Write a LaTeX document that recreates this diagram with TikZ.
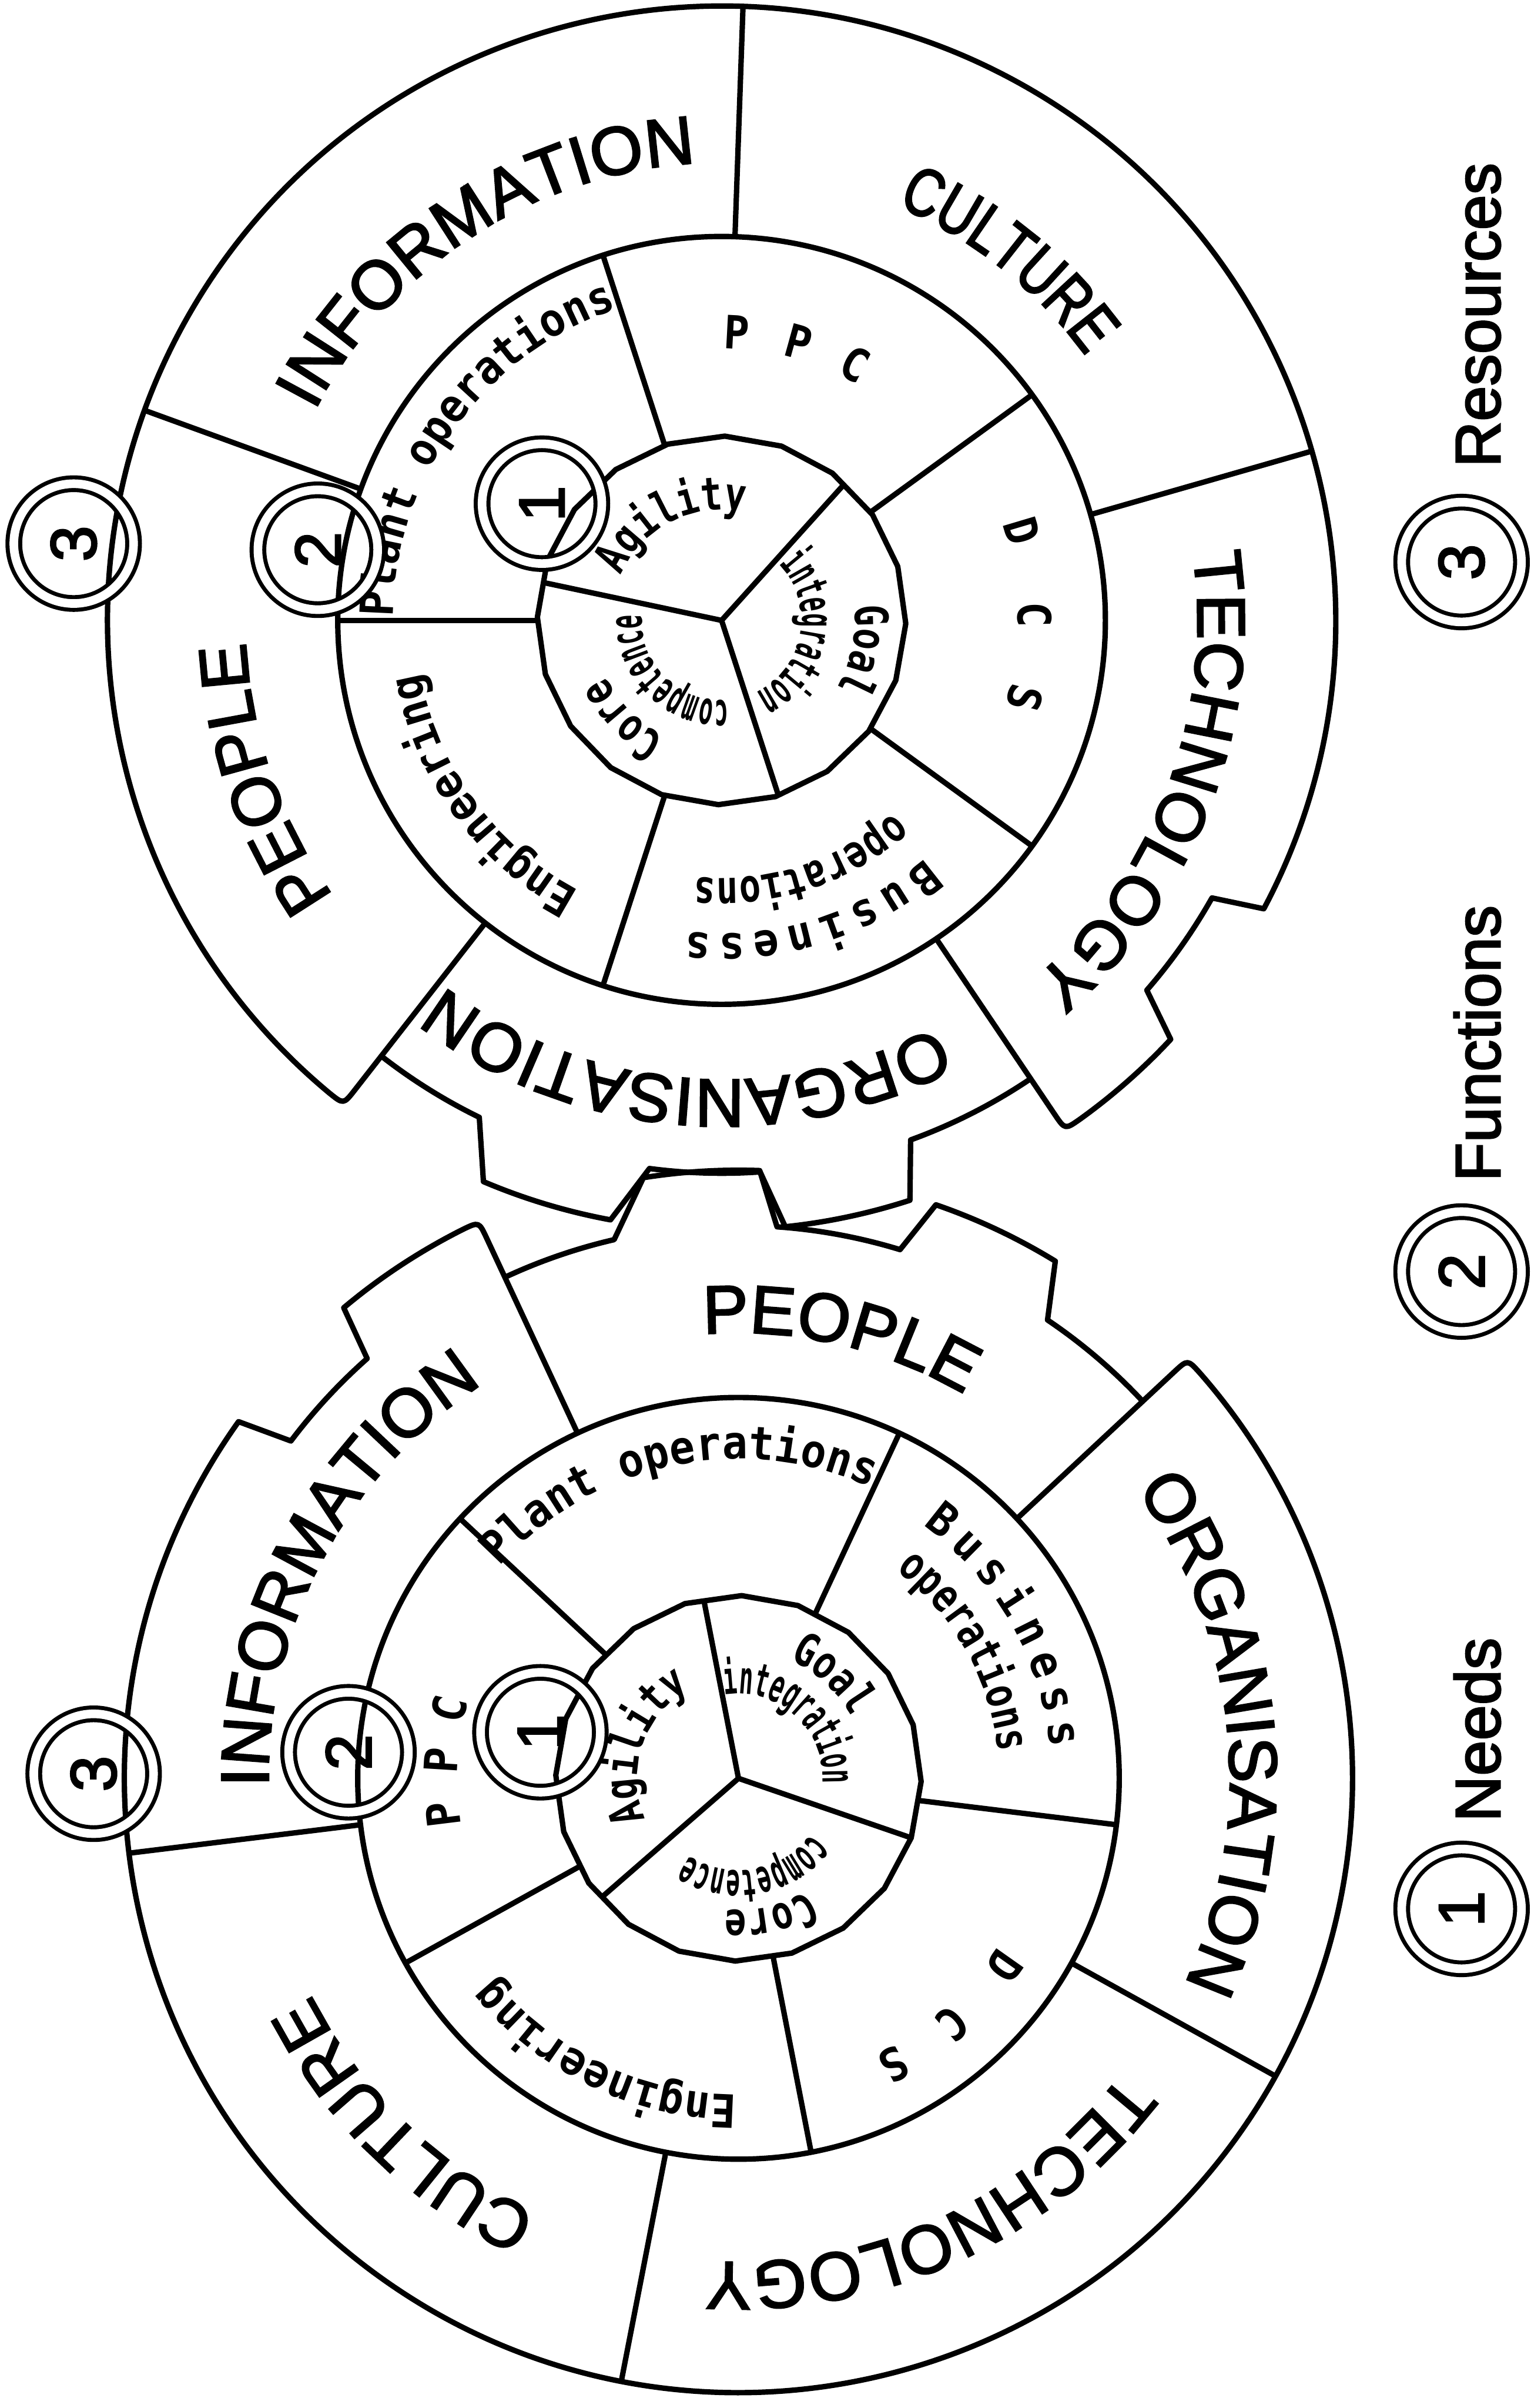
\documentclass[tikz,border=0pt]{standalone}
\usepackage{fontspec}
\setmainfont{Liberation Sans}
\newfontfamily\heavysans[FakeBold=2.5]{Liberation Sans}
\newfontfamily\narrowsans[FakeStretch=0.76,FakeBold=2.5]{Liberation Sans}
\newfontfamily\ringmono[FakeStretch=0.92]{DejaVu Sans Mono}
\newfontfamily\tightmono[FakeStretch=0.78]{DejaVu Sans Mono}
\newfontfamily\squeezemono[FakeStretch=0.5]{DejaVu Sans Mono}
\usetikzlibrary{decorations.text}

\newcommand{\outerfont}{\heavysans\fontsize{12.6}{15}\selectfont}
\newcommand{\culturefont}{\narrowsans\fontsize{12.6}{15}\selectfont}
\newcommand{\ringfont}{\ringmono\bfseries\fontsize{8.5}{10}\selectfont}
\newcommand{\tightfont}{\tightmono\bfseries\fontsize{8.5}{10}\selectfont}
\newcommand{\squeezefont}{\squeezemono\bfseries\fontsize{8.5}{10}\selectfont}

% text on a clockwise arc: font, centre angle, baseline radius, text
\newcommand{\ringlabel}[4]{%
  \path[decorate, decoration={text along path, text align=center, text={|#1|#4}}]
    ({#2+90}:#3) arc[start angle={#2+90}, end angle={#2-90}, radius=#3];}
% text spread over an arc: font, start angle, end angle, radius, text
\newcommand{\fitlabel}[5]{%
  \path[decorate, decoration={text along path, text align=fit to path, text={|#1|#5}}]
    (#2:#4) arc[start angle=#2, end angle=#3, radius=#4];}

\begin{document}
\begin{tikzpicture}[
gear line/.style={line width=1pt, line join=round},
marker/.style={circle, draw, double, double distance=1.6pt, line width=0.75pt,
  minimum size=0.78cm, inner sep=0pt, rotate=90, font=\heavysans\fontsize{12}{14}\selectfont},
ring letter/.style={inner sep=0pt, font=\ringfont},
key text/.style={rotate=90, anchor=base west, inner sep=0pt, font=\heavysans\fontsize{11.8}{14}\selectfont}
]
\path[use as bounding box] (0,0) rectangle (9.97,15.68);

% upper gear
\begin{scope}[shift={(4.70,11.64)}]
  \draw[gear line] (-128:3.88) -- (-128:3.6)
    arc[start angle=-128, end angle=-116, radius=3.6] -- (-113:3.97)
    arc[start angle=-113, end angle=-100.5, radius=3.97] -- (-97.5:3.6)
    arc[start angle=-97.5, end angle=-86, radius=3.6] -- (-84:3.97)
    arc[start angle=-84, end angle=-72, radius=3.97] -- (-70:3.6)
    arc[start angle=-70, end angle=-56, radius=3.6] -- (-56:3.88)
    .. controls (-56:4) .. (-54.3:4)
    arc[start angle=-54.3, end angle=-43, radius=4] -- (-41:3.67)
    arc[start angle=-41, end angle=-29.5, radius=3.67] -- (-28:4)
    arc[start angle=-28, end angle=230.3, radius=4]
    .. controls (232:4) .. (232:3.88) -- cycle;
  \draw[gear line] (0,0) circle[radius=2.5];
  \draw[gear line] (-1:1.2) \foreach \a in {17,35,...,341} {-- (\a:1.2)} -- cycle;
  \foreach \a in {48,168,288} \draw[gear line] (0,0) -- (\a:1.2);
  \foreach \a in {180,108,36,-36,-108} \draw[gear line] (\a:1.19) -- (\a:2.5);
  \foreach \a/\r in {88/4,16/4,-56/3.6,-128/3.6,160/4} \draw[gear line] (\a:2.5) -- (\a:\r);
  % resources
  \ringlabel{\outerfont}{123}{2.98}{INFORMATION}
  \ringlabel{\culturefont}{51.5}{2.93}{CULTURE}
  \ringlabel{\outerfont}{-20.5}{3.1}{TECHNOLOGY}
  \ringlabel{\outerfont}{-94.7}{2.99}{ORGANISATION}
  \ringlabel{\outerfont}{-161}{3.1}{PEOPLE}
  % functions
  \ringlabel{\ringfont}{144}{2.14}{Plant operations}
  \fitlabel{\ringfont}{-49.5}{-96.5}{2.04}{Business}
  \ringlabel{\tightfont}{-72}{1.68}{operations}
  \ringlabel{\ringfont}{-144}{1.99}{Engineering}
  \foreach \ch/\a [count=\i] in {P/87,P/74.5,C/62.5}
    \node[ring letter, rotate=\a-90] (ppcA\i) at (\a:1.88) {\ch};
  \foreach \ch/\a [count=\i] in {D/16.6,C/1,S/-14.4}
    \node[ring letter, rotate=\a-90] (dcsA\i) at (\a:2.04) {\ch};
  % needs
  \ringlabel{\tightfont}{117}{0.72}{Agility}
  \ringlabel{\tightfont}{-12}{0.87}{Goal}
  \ringlabel{\squeezefont}{-10}{0.52}{integration}
  \ringlabel{\tightfont}{-135}{0.84}{Core}
  \ringlabel{\squeezefont}{-134.5}{0.52}{competence}
\end{scope}

% lower gear
\begin{scope}[shift={(4.81,4.10)}]
  \draw[gear line] (43:3.88) -- (43:3.6)
    arc[start angle=43, end angle=56, radius=3.6] -- (58.5:3.95)
    arc[start angle=58.5, end angle=71, radius=3.95] -- (73:3.6)
    arc[start angle=73, end angle=86, radius=3.6] -- (88:3.96)
    arc[start angle=88, end angle=99, radius=3.96] -- (103:3.6)
    arc[start angle=103, end angle=115, radius=3.6] -- (115:3.88)
    .. controls (115:4) .. (116.7:4)
    arc[start angle=116.7, end angle=130, radius=4] -- (131.5:3.65)
    arc[start angle=131.5, end angle=143, radius=3.65] -- (144.5:4)
    arc[start angle=144.5, end angle=401.3, radius=4]
    .. controls (403:4) .. (403:3.88) -- cycle;
  \draw[gear line] (0,0) circle[radius=2.48];
  \draw[gear line] (-1:1.19) \foreach \a in {17,35,...,341} {-- (\a:1.19)} -- cycle;
  \foreach \a in {101,-19,-139} \draw[gear line] (0,0) -- (\a:1.19);
  \foreach \a in {137,65,-7,-79,-151} \draw[gear line] (\a:1.18) -- (\a:2.48);
  \foreach \a/\r in {115/3.6,43/3.6,-29/4,-101/4,-173/4} \draw[gear line] (\a:2.48) -- (\a:\r);
  % resources
  \ringlabel{\outerfont}{152}{3.06}{INFORMATION}
  \ringlabel{\outerfont}{77}{2.9}{PEOPLE}
  \ringlabel{\outerfont}{5.6}{3.2}{ORGANISATION}
  \ringlabel{\outerfont}{-65.6}{3.15}{TECHNOLOGY}
  \ringlabel{\outerfont}{-134}{3.12}{CULTURE}
  % functions
  \ringlabel{\ringfont}{102}{2.08}{Plant operations}
  \fitlabel{\ringfont}{54}{5.5}{2.04}{Business}
  \ringlabel{\tightfont}{29.3}{1.70}{operations}
  \ringlabel{\ringfont}{-115.6}{2.06}{Engineering}
  \foreach \ch/\a [count=\i] in {P/187,P/176.5,C/166.5}
    \node[ring letter, rotate=\a-90] (ppcB\i) at (\a:1.94) {\ch};
  \foreach \ch/\a [count=\i] in {D/-35.2,C/-48.8,S/-61.5}
    \node[ring letter, rotate=\a-90] (dcsB\i) at (\a:2.12) {\ch};
  % needs
  \ringlabel{\tightfont}{161}{0.66}{Agility}
  \ringlabel{\tightfont}{47.7}{0.84}{Goal}
  \ringlabel{\squeezefont}{48}{0.55}{integration}
  \ringlabel{\tightfont}{-77}{0.86}{Core}
  \ringlabel{\squeezefont}{-80}{0.60}{competence}
\end{scope}

% level markers
\node[marker] (needA) at (3.53,12.40) {1};
\node[marker] (funcA) at (2.07,12.10) {2};
\node[marker] (resA) at (0.48,12.14) {3};
\node[marker] (needB) at (3.52,4.40) {1};
\node[marker] (funcB) at (2.27,4.27) {2};
\node[marker] (resB) at (0.61,4.13) {3};

% key
\node[marker] (key1) at (9.52,3.25) {1};
\node[marker] (key2) at (9.52,7.40) {2};
\node[marker] (key3) at (9.52,12.02) {3};
\node[key text] (keyneeds) at (9.77,3.81) {Needs};
\node[key text] (keyfunctions) at (9.77,7.98) {Functions};
\node[key text] (keyresources) at (9.77,12.63) {Resources};
\end{tikzpicture}
\end{document}
